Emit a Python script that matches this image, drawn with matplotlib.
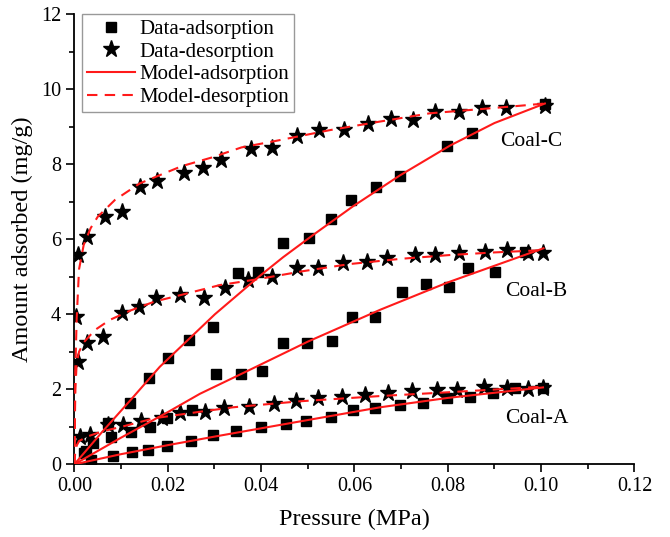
import numpy as np
import matplotlib.pyplot as plt
from matplotlib.ticker import MultipleLocator

plt.rcParams['font.family'] = ['Liberation Serif', 'DejaVu Serif']

# Coal-A
a_ads_p = [0.0035, 0.0082, 0.0123, 0.0158, 0.0198, 0.0250, 0.0297, 0.0346, 0.0399, 0.0453, 0.0496,
           0.0549, 0.0596, 0.0644, 0.0697, 0.0746, 0.0799, 0.0847, 0.0896, 0.0944, 0.1004]
a_ads_v = [0.12, 0.22, 0.34, 0.38, 0.49, 0.63, 0.78, 0.90, 1.00, 1.07, 1.16,
           1.27, 1.45, 1.49, 1.58, 1.64, 1.76, 1.80, 1.89, 2.03, 2.03]
a_des_p = [0.0012, 0.0033, 0.0072, 0.0105, 0.0142, 0.0187, 0.0226, 0.0280, 0.0320, 0.0375, 0.0427,
           0.0475, 0.0522, 0.0573, 0.0622, 0.0672, 0.0723, 0.0777, 0.0820, 0.0877, 0.0926, 0.0972, 0.1005]
a_des_v = [0.74, 0.78, 1.05, 1.05, 1.16, 1.23, 1.36, 1.40, 1.49, 1.52, 1.60,
           1.69, 1.76, 1.80, 1.85, 1.89, 1.96, 1.98, 1.98, 2.05, 2.03, 2.00, 2.03]
a_mads_p = [0, 0.01, 0.02, 0.0301, 0.045, 0.0655, 0.08, 0.1004]
a_mads_v = [0, 0.27, 0.51, 0.74, 1.07, 1.52, 1.77, 2.05]
a_mdes_p = [0, 0.0002, 0.0005, 0.001, 0.003, 0.006, 0.0101, 0.0172, 0.028, 0.034, 0.0483, 0.0655, 0.08, 0.1004]
a_mdes_v = [0, 0.35, 0.50, 0.62, 0.75, 0.88, 1.00, 1.23, 1.42, 1.52, 1.68, 1.82, 1.92, 2.07]

# Coal-B
b_ads_p = [0.0025, 0.0078, 0.0121, 0.0162, 0.0199, 0.0251, 0.0303, 0.0356, 0.0401, 0.0448, 0.0499,
           0.0551, 0.0594, 0.0644, 0.0701, 0.0753, 0.0803, 0.0844, 0.0901, 0.0965]
b_ads_v = [0.35, 0.74, 0.87, 1.00, 1.23, 1.45, 2.42, 2.41, 2.49, 3.24, 3.24,
           3.29, 3.92, 3.92, 4.60, 4.80, 4.72, 5.23, 5.14, 5.65]
b_des_p = [0.0008, 0.0027, 0.0062, 0.0101, 0.0139, 0.0174, 0.0226, 0.0278, 0.0322, 0.0372, 0.0423,
           0.0478, 0.0522, 0.0576, 0.0626, 0.0669, 0.0730, 0.0772, 0.0825, 0.0880, 0.0926, 0.0972, 0.1005]
b_des_v = [2.74, 3.23, 3.40, 4.03, 4.20, 4.43, 4.51, 4.44, 4.71, 4.91, 5.00,
           5.23, 5.23, 5.36, 5.40, 5.49, 5.58, 5.58, 5.63, 5.67, 5.71, 5.63, 5.63]
b_mads_p = [0, 0.01, 0.02, 0.0269, 0.0376, 0.05, 0.0655, 0.08, 0.1005]
b_mads_v = [0, 0.71, 1.39, 1.88, 2.52, 3.27, 4.12, 4.85, 5.76]
b_mdes_p = [0, 0.0002, 0.0005, 0.001, 0.002, 0.0044, 0.0076, 0.012, 0.0172, 0.023, 0.0312,
            0.039, 0.049, 0.059, 0.070, 0.0804, 0.090, 0.1004]
b_mdes_v = [0, 2.0, 2.7, 3.0, 3.25, 3.58, 3.85, 4.10, 4.34, 4.52, 4.78,
            4.93, 5.15, 5.34, 5.48, 5.58, 5.65, 5.71]

# Coal-C
c_ads_p = [0.0020, 0.0040, 0.0072, 0.0119, 0.0160, 0.0200, 0.0245, 0.0297, 0.0350, 0.0394, 0.0447,
           0.0503, 0.0549, 0.0592, 0.0646, 0.0697, 0.0799, 0.0851, 0.1008]
c_ads_v = [0.30, 0.56, 1.09, 1.64, 2.31, 2.84, 3.31, 3.67, 5.09, 5.12, 5.89,
           6.04, 6.54, 7.05, 7.40, 7.70, 8.50, 8.84, 9.60]
c_des_p = [0.0004, 0.0008, 0.0026, 0.0065, 0.0103, 0.0140, 0.0176, 0.0235, 0.0275, 0.0315, 0.0378,
           0.0423, 0.0476, 0.0525, 0.0577, 0.0630, 0.0678, 0.0726, 0.0772, 0.0825, 0.0873, 0.0925, 0.1008]
c_des_v = [3.93, 5.58, 6.07, 6.60, 6.74, 7.40, 7.55, 7.76, 7.89, 8.11, 8.40,
           8.43, 8.75, 8.91, 8.91, 9.07, 9.20, 9.18, 9.40, 9.40, 9.49, 9.51, 9.55]
c_mads_p = [0, 0.006, 0.0123, 0.0183, 0.0301, 0.0397, 0.0447, 0.0512, 0.0597, 0.0697, 0.0805, 0.09, 0.1008]
c_mads_v = [0, 0.87, 1.75, 2.60, 4.00, 5.02, 5.52, 6.12, 6.88, 7.70, 8.50, 9.10, 9.62]
c_mdes_p = [0, 0.0002, 0.0005, 0.001, 0.002, 0.0035, 0.005, 0.0087, 0.014, 0.023, 0.0294,
            0.0358, 0.043, 0.0547, 0.0655, 0.0762, 0.0869, 0.0954, 0.1008]
c_mdes_v = [0, 2.5, 3.9, 5.2, 5.85, 6.3, 6.6, 7.05, 7.49, 7.95, 8.18,
            8.45, 8.62, 8.91, 9.14, 9.36, 9.47, 9.56, 9.62]

coals = [
    ('Coal-A', a_ads_p, a_ads_v, a_des_p, a_des_v, a_mads_p, a_mads_v, a_mdes_p, a_mdes_v, (0.0922, 1.22)),
    ('Coal-B', b_ads_p, b_ads_v, b_des_p, b_des_v, b_mads_p, b_mads_v, b_mdes_p, b_mdes_v, (0.0922, 4.6)),
    ('Coal-C', c_ads_p, c_ads_v, c_des_p, c_des_v, c_mads_p, c_mads_v, c_mdes_p, c_mdes_v, (0.0912, 8.6)),
]

red = '#ff1a1a'
fig = plt.figure(figsize=(6.7, 5.37), dpi=100)
ax = fig.add_axes([0.111, 0.1354, 0.836, 0.838])

for i, (name, ap, av, dp, dv, map_, mav, mdp, mdv, lab) in enumerate(coals):
    ax.plot(ap, av, 's', color='black', ms=7, zorder=2,
            label='Data-adsorption' if i == 0 else None)
    ax.plot(dp, dv, '*', color='black', ms=12.5, zorder=2,
            label='Data-desorption' if i == 0 else None)
    ax.plot(map_, mav, '-', color=red, lw=1.5, zorder=3,
            label='Model-adsorption' if i == 0 else None)
    ax.plot(mdp, mdv, color=red, lw=1.5, ls=(0, (5, 3.5)), zorder=3,
            label='Model-desorption' if i == 0 else None)
    ax.text(lab[0], lab[1], name, fontsize=15.5, va='center', ha='left')

ax.set_xlim(0, 0.12)
ax.set_ylim(0, 12)
ax.xaxis.set_major_locator(MultipleLocator(0.02))
ax.xaxis.set_minor_locator(MultipleLocator(0.01))
ax.yaxis.set_major_locator(MultipleLocator(2))
ax.yaxis.set_minor_locator(MultipleLocator(1))
ax.xaxis.set_major_formatter(plt.FuncFormatter(lambda x, _: '%.2f' % x))
ax.tick_params(which='major', direction='out', length=6, width=1.2, labelsize=14.5)
ax.tick_params(which='minor', direction='out', length=3.5, width=1.2)
for s in ['top', 'right']:
    ax.spines[s].set_visible(False)
for s in ['left', 'bottom']:
    ax.spines[s].set_linewidth(1.3)

ax.set_xlabel('Pressure (MPa)', fontsize=17.5, labelpad=9)
ax.set_ylabel('Amount adsorbed (mg/g)', fontsize=17.5, labelpad=6)

leg = ax.legend(loc='upper left', bbox_to_anchor=(0.013, 1.0), fontsize=15,
                frameon=True, fancybox=False, edgecolor='#999999', framealpha=1,
                handlelength=2.3, handletextpad=0.2, borderpad=0.25, labelspacing=0.15,
                borderaxespad=0.0)
leg.get_frame().set_linewidth(1.0)

fig.savefig('out.png', dpi=100)
